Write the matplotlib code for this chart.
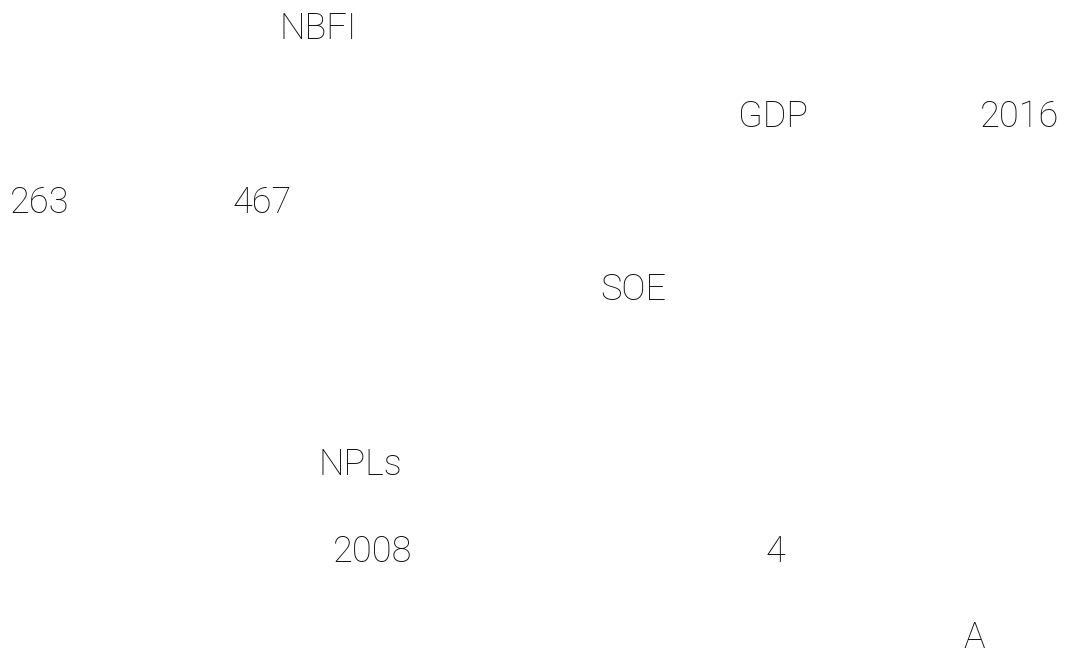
import matplotlib.pyplot as plt

# visible fragments of the text block (CJK glyphs missing in the source render)
labels = ["NBFI", "GDP", "2016", "263", "467", "SOE", "NPLs", "2008", "4", "A"]
# left edge and baseline, in pixels of the 1079x657 image
x_px = [280, 738, 980, 10, 233, 600, 318, 333, 766, 963]
y_px = [39, 127, 127, 213, 213, 300, 475, 562, 562, 648]

W, H = 1079, 657

fig = plt.figure(figsize=(W / 100, H / 100), dpi=100)
fig.patch.set_facecolor("white")

for t, x, y in zip(labels, x_px, y_px):
    fig.text(x / W, 1 - y / H, t, ha="left", va="baseline",
             fontsize=26, color="#111111", fontweight="light",
             family=["Roboto", "DejaVu Sans"])

fig.savefig("out.png", dpi=100, facecolor="white")
